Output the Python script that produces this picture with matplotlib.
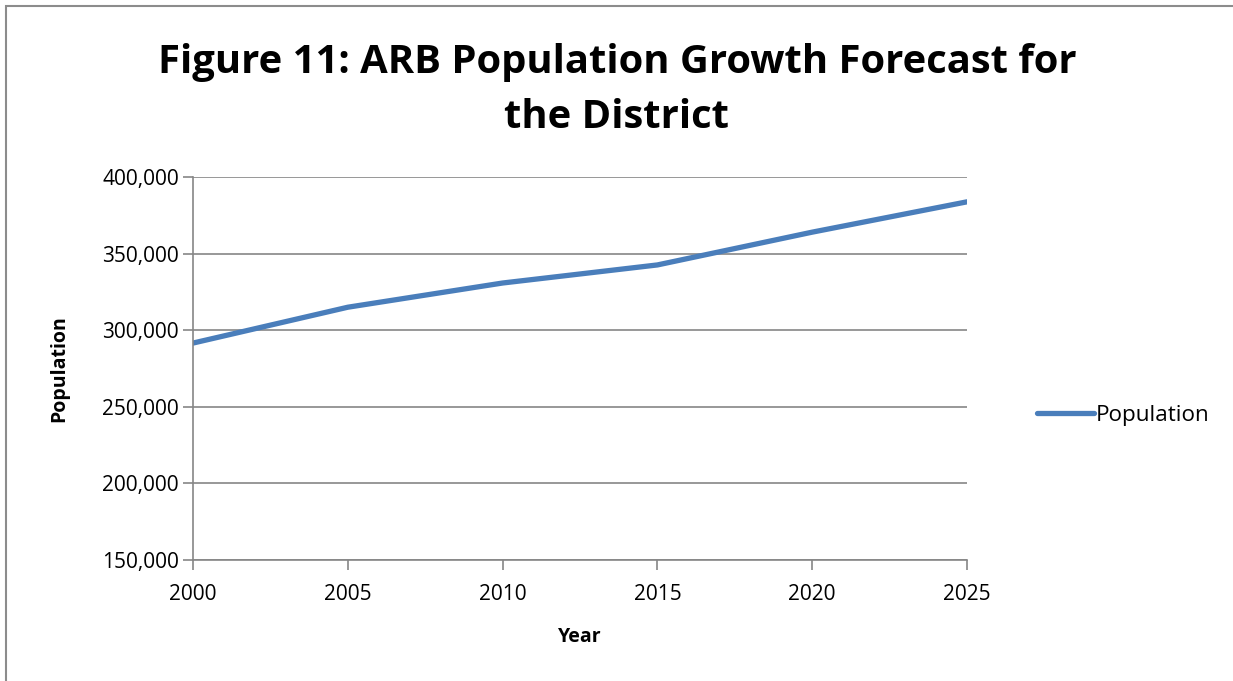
import matplotlib
matplotlib.use("Agg")
import matplotlib.pyplot as plt
from matplotlib.patches import Rectangle
from matplotlib.ticker import FuncFormatter

# --- data ---
years = [2000, 2005, 2010, 2015, 2020, 2025]
population = [291600, 315000, 330800, 342600, 364000, 383800]

plt.rcParams['font.family'] = ['Open Sans', 'DejaVu Sans']

fig = plt.figure(figsize=(12.33, 6.81), dpi=100)

# outer chart border (cropped on right and bottom)
fig.patches.append(Rectangle((6 / 1233, -0.05), 1.1, 1 - 6 / 681 + 0.05,
                             transform=fig.transFigure, fill=False,
                             edgecolor='#8c8c8c', lw=1.5))

ax = fig.add_axes([193 / 1233, 1 - 560 / 681, (967 - 193) / 1233, (560 - 177) / 681])
line, = ax.plot(years, population, color='#4a7ebb', lw=3.8,
                solid_capstyle='round', label='Population')

ax.set_xlim(2000, 2025)
ax.set_ylim(150000, 400000)
ax.set_xticks(years)
ax.set_yticks(range(150000, 400001, 50000))
ax.yaxis.set_major_formatter(FuncFormatter(lambda v, p: f"{int(v):,}"))
ax.grid(axis='y', color='#868686', lw=1.2)
ax.set_axisbelow(True)
for s in ['top', 'right']:
    ax.spines[s].set_visible(False)
for s in ['left', 'bottom']:
    ax.spines[s].set_color('#868686')
    ax.spines[s].set_linewidth(1.2)
ax.tick_params(axis='both', colors='#868686', labelcolor='black',
               labelsize=15, length=7, width=1.2)
ax.tick_params(axis='x', pad=10)
ax.tick_params(axis='y', pad=3)

ax.set_xlabel('Year', fontsize=14, fontweight='bold', labelpad=16)
ax.set_ylabel('Population', fontsize=14, fontweight='bold', labelpad=24)

fig.text(617 / 1233, 1 - 90 / 681, 'Figure 11: ARB Population Growth Forecast for\nthe District',
         ha='center', va='center', fontsize=28.8, fontweight='bold', linespacing=1.55)

fig.legend(handles=[line], loc='center left', bbox_to_anchor=(1017 / 1233, 1 - 415 / 681),
           frameon=False, fontsize=16.2, handlelength=2.5, handletextpad=0.1)

fig.savefig('out.png', dpi=100)
